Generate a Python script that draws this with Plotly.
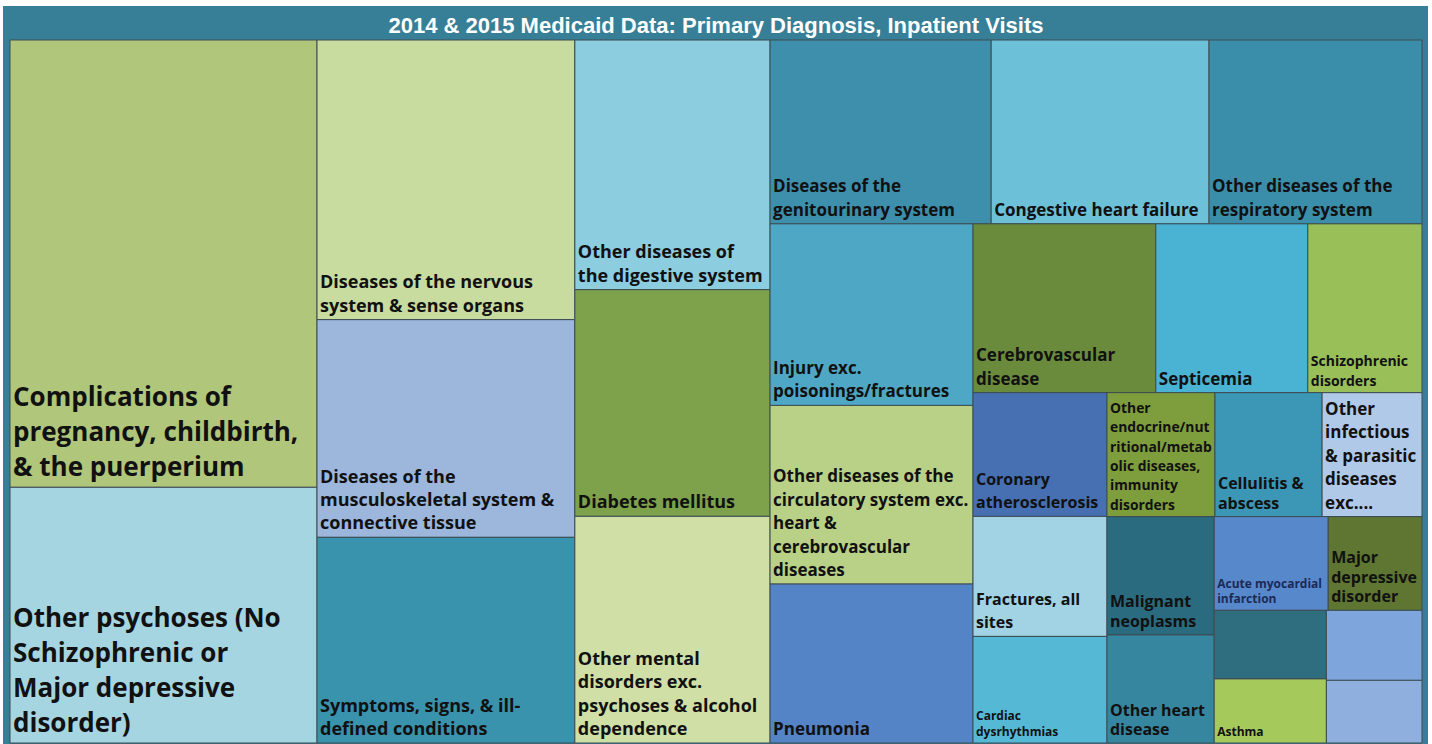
import plotly.graph_objects as go

# ---- data (approximate relative volumes read from tile areas) ----
diagnoses = [
    "Complications of pregnancy, childbirth, & the puerperium",
    "Other psychoses (No Schizophrenic or Major depressive disorder)",
    "Diseases of the nervous system & sense organs",
    "Diseases of the musculoskeletal system & connective tissue",
    "Symptoms, signs, & ill-defined conditions",
    "Other diseases of the digestive system",
    "Diabetes mellitus",
    "Other mental disorders exc. psychoses & alcohol dependence",
    "Diseases of the genitourinary system",
    "Congestive heart failure",
    "Other diseases of the respiratory system",
    "Injury exc. poisonings/fractures",
    "Other diseases of the circulatory system exc. heart & cerebrovascular diseases",
    "Pneumonia",
    "Cerebrovascular disease",
    "Septicemia",
    "Schizophrenic disorders",
    "Coronary atherosclerosis",
    "Fractures, all sites",
    "Cardiac dysrhythmias",
    "Other endocrine/nutritional/metabolic diseases, immunity disorders",
    "Cellulitis & abscess",
    "Other infectious & parasitic diseases exc....",
    "Malignant neoplasms",
    "Other heart disease",
    "Acute myocardial infarction",
    "Major depressive disorder",
    "Unlabeled 1",
    "Asthma",
    "Unlabeled 2",
    "Unlabeled 3",
]
visits = [137.5, 78.6, 72.2, 56.2, 53.1, 48.8, 44.3, 44.3, 40.7, 40.1, 39.2,
          36.9, 36.3, 32.3, 30.9, 25.7, 19.3, 16.6, 16.1, 14.3, 13.4, 13.3,
          12.4, 12.7, 11.6, 10.7, 8.8, 7.7, 7.2, 6.7, 6.0]

label_lines = [
    ["Complications of", "pregnancy, childbirth,", "& the puerperium"],
    ["Other psychoses (No", "Schizophrenic or", "Major depressive", "disorder)"],
    ["Diseases of the nervous", "system & sense organs"],
    ["Diseases of the", "musculoskeletal system &", "connective tissue"],
    ["Symptoms, signs, & ill-", "defined conditions"],
    ["Other diseases of", "the digestive system"],
    ["Diabetes mellitus"],
    ["Other mental", "disorders exc.", "psychoses & alcohol", "dependence"],
    ["Diseases of the", "genitourinary system"],
    ["Congestive heart failure"],
    ["Other diseases of the", "respiratory system"],
    ["Injury exc.", "poisonings/fractures"],
    ["Other diseases of the", "circulatory system exc.", "heart &", "cerebrovascular", "diseases"],
    ["Pneumonia"],
    ["Cerebrovascular", "disease"],
    ["Septicemia"],
    ["Schizophrenic", "disorders"],
    ["Coronary", "atherosclerosis"],
    ["Fractures, all", "sites"],
    ["Cardiac", "dysrhythmias"],
    ["Other", "endocrine/nut", "ritional/metab", "olic diseases,", "immunity", "disorders"],
    ["Cellulitis &", "abscess"],
    ["Other", "infectious", "& parasitic", "diseases", "exc...."],
    ["Malignant", "neoplasms"],
    ["Other heart", "disease"],
    ["Acute myocardial", "infarction"],
    ["Major", "depressive", "disorder"],
    [],
    ["Asthma"],
    [],
    [],
]

# ---- styling ----
tile_colors = [
    "#b0c67a", "#a6d5e2", "#c9dca0", "#9cb6dc", "#3a93ad", "#8ccde0", "#7da24b",
    "#d0dfa6", "#3d8fac", "#6cc0d8", "#3a8eaa", "#4ea8c5", "#b9d087", "#5483c6",
    "#6a8a3c", "#4ab3d3", "#98bf58", "#4670b2", "#a2d3e4", "#55b9d6", "#7e9d3c",
    "#3b97b5", "#b1c9e8", "#2a6b80", "#3686a0", "#5888cc", "#5e7632", "#2f6e7f",
    "#a6c95c", "#7fa6dc", "#8fb0de",
]
text_sizes = [26, 26, 18, 18, 18, 18, 18, 18, 17, 17, 17, 17, 17, 17, 17, 17,
              14, 16, 16, 12, 14, 16, 17, 16, 16, 12, 16, 12, 12, 12, 12]
line_pitch = [36, 36, 25, 25, 24, 25, 25, 25, 24, 24, 24, 23, 23, 23, 23, 23,
              18, 22, 23, 16, 19, 21, 23, 21, 21, 16, 21, 16, 16, 16, 16]
text_colors = ["#111111"] * len(diagnoses)
text_colors[25] = "#1b2a55"

BASE = 3  # base font size; each <br> advances 1.3 * BASE px


def styled(lines, size, color, pitch):
    if not lines:
        return " "
    brk = "<br>" * max(1, round(pitch / (1.3 * BASE)))
    return brk.join(
        f"<span style='font-size:{size}px;font-weight:bold;fill:{color}'>{ln}</span>"
        for ln in lines)


display_text = [styled(l, s, c, p)
                for l, s, c, p in zip(label_lines, text_sizes, text_colors, line_pitch)]

fig = go.Figure(go.Treemap(
    ids=diagnoses,
    labels=diagnoses,
    parents=[""] * len(diagnoses),
    values=visits,
    text=display_text,
    texttemplate="%{text}",
    textposition="bottom left",
    textfont=dict(family="Open Sans", size=BASE, color="#111111"),
    sort=False,
    tiling=dict(packing="squarify", squarifyratio=1, pad=0),
    marker=dict(colors=tile_colors, line=dict(color="#3e4c52", width=1),
                pad=dict(t=0, l=0, r=0, b=0)),
    pathbar=dict(visible=False),
    hovertemplate="%{label}<br>%{value}<extra></extra>",
))

W, H = 1432, 744
left, right, top, bottom = 10, 10, 40, 1
pw, ph = W - left - right, H - top - bottom

# teal frame behind the treemap (thin white page edge around it)
fig.add_shape(type="rect", xref="paper", yref="paper", layer="below",
              x0=(3 - left) / pw, x1=(1428 - left) / pw,
              y0=(H - bottom - 746) / ph, y1=(H - bottom - 6) / ph,
              fillcolor="#377f96", line=dict(width=0))

fig.update_layout(
    width=W, height=H,
    margin=dict(l=left, r=right, t=top, b=bottom),
    paper_bgcolor="white",
    title=dict(text="<b>2014 & 2015 Medicaid Data: Primary Diagnosis, Inpatient Visits</b>",
               x=0.5, xanchor="center", y=1 - 25 / H, yanchor="middle",
               font=dict(family="Liberation Sans", size=22, color="white")),
)

fig.write_html("out.html", config={"displayModeBar": False},
               post_script="document.body.style.margin='0';")
